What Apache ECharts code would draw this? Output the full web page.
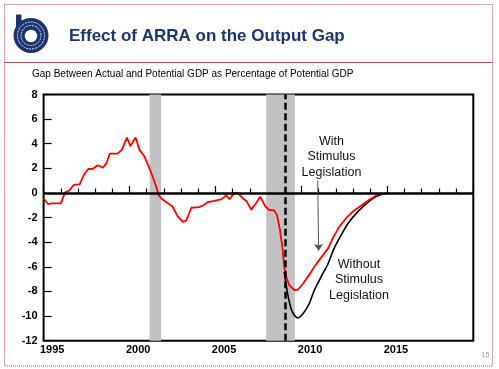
<!DOCTYPE html>
<html>
<head>
<meta charset="utf-8">
<script src="https://cdn.jsdelivr.net/npm/echarts@6/dist/echarts.min.js"></script>
<style>
html,body{margin:0;padding:0;background:#fff;}
#chart{width:499px;height:369px;}
</style>
</head>
<body>
<div id="chart"></div>
<script>
// ---- data ----
var yearLabels = ['1995','1996','1997','1998','1999','2000','2001','2002','2003','2004','2005','2006','2007','2008','2009','2010','2011','2012','2013','2014','2015','2016','2017','2018','2019'];
var yTicks = [-12,-10,-8,-6,-4,-2,0,2,4,6,8];

var withYears = [1995.0,1995.25,1995.5,1996.0,1996.25,1996.5,1996.75,1997.1,1997.35,1997.6,1997.85,1998.15,1998.45,1998.65,1998.85,1999.3,1999.55,1999.85,2000.05,2000.35,2000.58,2000.85,2001.1,2001.35,2001.55,2001.7,2001.85,2002.15,2002.5,2002.8,2003.1,2003.3,2003.6,2004.05,2004.3,2004.55,2004.95,2005.35,2005.62,2005.82,2006.1,2006.3,2006.6,2006.8,2007.08,2007.35,2007.6,2007.9,2008.15,2008.4,2008.58,2008.75,2008.9,2009.0,2009.12,2009.3,2009.6,2009.8,2010.1,2010.5,2010.85,2011.25,2011.55,2011.85,2012.2,2012.6,2013.0,2013.4,2013.95,2014.35,2014.6];
var withValues = [-0.45,-0.9,-0.85,-0.85,0.05,0.2,0.65,0.7,1.5,1.95,1.95,2.25,2.05,2.4,3.2,3.2,3.5,4.5,3.8,4.5,3.5,3.0,2.2,1.3,0.5,-0.2,-0.45,-0.75,-1.1,-1.9,-2.35,-2.25,-1.2,-1.15,-1.0,-0.75,-0.65,-0.5,-0.2,-0.5,0.0,0.0,-0.45,-0.65,-1.35,-0.85,-0.3,-1.1,-1.4,-1.4,-1.8,-3.0,-4.5,-6.0,-6.85,-7.5,-7.9,-7.85,-7.35,-6.55,-5.8,-5.05,-4.5,-3.6,-2.75,-2.05,-1.5,-1.1,-0.55,-0.2,0.0];

var withoutYears = [2009.0,2009.2,2009.4,2009.6,2009.8,2010.1,2010.45,2010.75,2011.15,2011.55,2011.9,2012.3,2012.7,2013.1,2013.55,2014.15,2014.65,2015.1];
var withoutValues = [-6.4,-8.2,-9.4,-9.95,-10.15,-9.8,-9.0,-7.9,-6.8,-5.75,-4.5,-3.45,-2.5,-1.8,-1.15,-0.45,-0.12,0.0];

var recessions = [[2001.17, 2001.84], [2007.95, 2009.62]];
var arraDate = 2009.08;

var titleText = 'Effect of ARRA on the Output Gap';
var subtitleText = 'Gap Between Actual and Potential GDP as Percentage of Potential GDP';
var withLabel = 'With\nStimulus\nLegislation';
var withoutLabel = 'Without\nStimulus\nLegislation';
var withLabelPos = [2011.75, 2.93];
var withoutLabelPos = [2013.35, -7.05];
var arrowFrom = [2010.95, 1.0];
var arrowTo = [2011.0, -4.7];
var pageNumber = '15';

function zip(xs, ys){ var o=[]; for(var i=0;i<xs.length;i++){o.push([xs[i], ys[i]]);} return o; }

var FONT = "'Liberation Sans', Arial, sans-serif";
var navy = '#1c3570';

var chart = echarts.init(document.getElementById('chart'), null, {renderer:'canvas'});

var option = {
  animation: false,
  backgroundColor: '#fff',
  grid: {left: 43.6, right: 25.7, top: 94.5, bottom: 28.3, show: true, borderColor: '#000', borderWidth: 2, containLabel: false},
  xAxis: [
    {
      type: 'value', min: 1995, max: 2020, interval: 5, position: 'bottom',
      axisLine: {show: false},
      axisTick: {show: true, inside: true, length: 7, lineStyle: {color: '#000', width: 1.2}},
      minorTick: {show: true, splitNumber: 5, length: 4.5, lineStyle: {color: '#000', width: 1.2}},
      axisLabel: {show: false},
      splitLine: {show: false}, minorSplitLine: {show: false}
    },
    {
      type: 'category', data: yearLabels, boundaryGap: true, position: 'bottom',
      axisLine: {show: false}, axisTick: {show: false}, splitLine: {show: false},
      axisLabel: {show: true, interval: 4, margin: 4, color: '#000', fontFamily: FONT, fontWeight: 'bold', fontSize: 11}
    }
  ],
  yAxis: [{
    type: 'value', min: yTicks[0], max: yTicks[yTicks.length-1], interval: 2,
    axisLine: {show: false},
    axisTick: {show: true, inside: true, length: 8, lineStyle: {color: '#000', width: 1.2}},
    axisLabel: {show: true, margin: 6, color: '#000', fontFamily: FONT, fontWeight: 'bold', fontSize: 11},
    splitLine: {show: false}
  }],
  series: [
    {
      name: 'bg', type: 'line', data: [], xAxisIndex: 0, yAxisIndex: 0, z: 1, silent: true,
      markArea: {
        silent: true,
        itemStyle: {color: '#c2c2c2'},
        data: recessions.map(function(r){ return [{xAxis: r[0]}, {xAxis: r[1]}]; })
      },
      markLine: {
        silent: true, symbol: ['none','none'], label: {show: false},
        data: [
          {yAxis: 0, lineStyle: {color: '#000', width: 2.5, type: 'solid'}},
          {xAxis: arraDate, lineStyle: {color: '#000', width: 2.5, type: [7,3.5]}}
        ]
      }
    },
    {
      name: 'Without Stimulus Legislation', type: 'line', xAxisIndex: 0, yAxisIndex: 0, z: 3,
      data: zip(withoutYears, withoutValues), showSymbol: false, smooth: 0.3,
      lineStyle: {color: '#000', width: 1.6}
    },
    {
      name: 'With Stimulus Legislation', type: 'line', xAxisIndex: 0, yAxisIndex: 0, z: 4,
      data: zip(withYears, withValues), showSymbol: false, smooth: false,
      lineStyle: {color: '#ff0000', width: 1.8},
      markPoint: {
        silent: true, symbol: 'rect', symbolSize: 0,
        label: {show: true, position: 'inside', color: '#111', fontFamily: FONT, fontSize: 12.5, lineHeight: 15.5, align: 'center', verticalAlign: 'middle'},
        data: [
          {coord: withLabelPos, label: {formatter: withLabel}},
          {coord: withoutLabelPos, label: {formatter: withoutLabel}}
        ]
      },
      markLine: {
        silent: true, symbol: ['none','arrow'], symbolSize: 7, label: {show: false},
        lineStyle: {color: '#555', width: 1, type: 'solid'},
        itemStyle: {color: '#555'},
        data: [[{coord: arrowFrom}, {coord: arrowTo}]]
      }
    }
  ],
  graphic: [
    {type: 'rect', shape: {x: 4.5, y: 4.5, width: 488, height: 361.5}, style: {fill: null, stroke: '#b85a5a', lineWidth: 1, lineDash: [1,1]}, z: 100},
    {type: 'line', shape: {x1: 4.5, y1: 62.5, x2: 492.5, y2: 62.5}, style: {stroke: '#a84848', lineWidth: 1}, z: 100},
    {type: 'circle', shape: {cx: 31, cy: 35.5, r: 17.5}, style: {fill: navy}, z: 100},
    {type: 'rect', shape: {x: 16, y: 14.5, width: 5.5, height: 21}, style: {fill: navy}, z: 100},
    {type: 'circle', shape: {cx: 31, cy: 35.5, r: 13.5}, style: {fill: null, stroke: '#dfe6f2', lineWidth: 1, lineDash: [2,1]}, z: 101},
    {type: 'circle', shape: {cx: 31, cy: 35.5, r: 10}, style: {fill: null, stroke: '#dfe6f2', lineWidth: 1, lineDash: [2,1]}, z: 101},
    {type: 'circle', shape: {cx: 31, cy: 36, r: 6.2}, style: {fill: '#fff'}, z: 101},
    {type: 'text', x: 69, y: 36, style: {text: titleText, fill: navy, font: 'bold 17px ' + FONT, textVerticalAlign: 'middle', verticalAlign: 'middle'}, z: 100},
    {type: 'text', x: 32, y: 74.5, style: {text: subtitleText, fill: '#000', font: '10px ' + FONT, textVerticalAlign: 'middle', verticalAlign: 'middle'}, z: 100},
    {type: 'text', x: 485.5, y: 355.5, style: {text: pageNumber, fill: '#999', font: '7px ' + FONT, align: 'center', textAlign: 'center', verticalAlign: 'middle', textVerticalAlign: 'middle'}, z: 100}
  ]
};
chart.setOption(option);
</script>
</body>
</html>
